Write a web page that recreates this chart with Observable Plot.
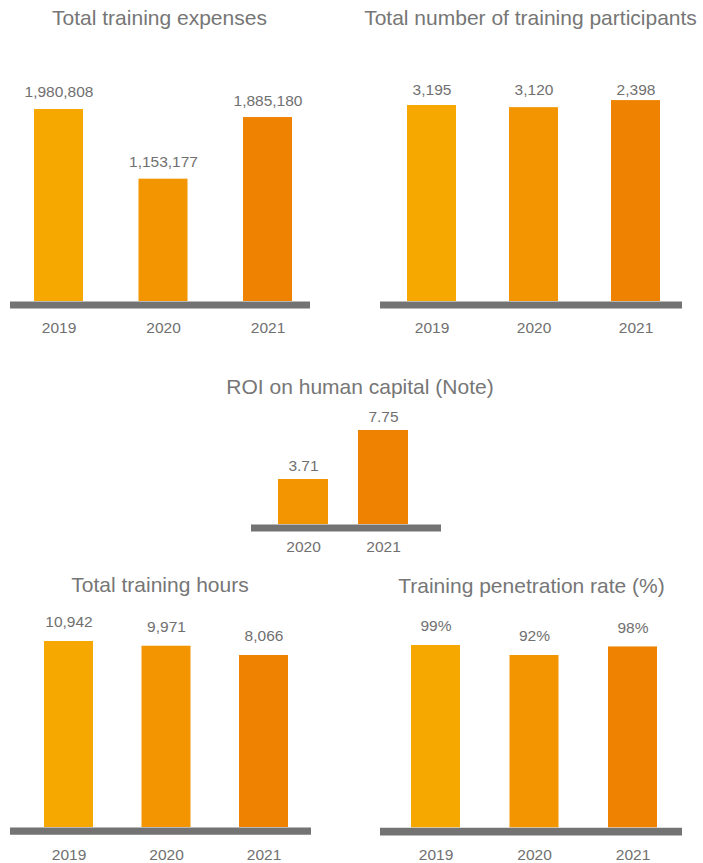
<!DOCTYPE html>
<html>
<head>
<meta charset="utf-8">
<script src="https://cdn.jsdelivr.net/npm/d3@7"></script>
<script src="https://cdn.jsdelivr.net/npm/@observablehq/plot@0.6"></script>
<style>
  html, body { margin: 0; padding: 0; background: #fff; }
  body { width: 703px; height: 863px; position: relative; overflow: hidden;
         font-family: "Liberation Sans", Arial, sans-serif; }
  .title { position: absolute; width: 420px; height: 30px; line-height: 30px;
           text-align: center; font-size: 21px; color: #767676; white-space: nowrap; }
  .panel { position: absolute; }
  .panel svg { overflow: visible; }
</style>
</head>
<body>
<script>
// ---- data ----
const years = ["2019", "2020", "2021"];
const expenses = [1980808, 1153177, 1885180];
const participants = [3195, 3120, 2398];
// bar lengths as drawn in the source picture (its bars are not proportional to the labels)
const participantsBarLength = [3195, 3160, 3275];
const roiYears = ["2020", "2021"];
const roi = [3.71, 7.75];
const hours = [10942, 9971, 8066];
const penetration = [99, 92, 98];
const yearColors = {"2019": "#F6A800", "2020": "#F29500", "2021": "#EF8200"};

const titles = [
  {text: "Total training expenses", cx: 159.5, cy: 18},
  {text: "Total number of training participants", cx: 530.5, cy: 18},
  {text: "ROI on human capital (Note)", cx: 360, cy: 387},
  {text: "Total training hours", cx: 160, cy: 585},
  {text: "Training penetration rate (%)", cx: 531.5, cy: 586}
];

const gray = "#737373";
const textGray = "#707070";
const fmt = d3.format(",");

for (const t of titles) {
  const d = document.createElement("div");
  d.className = "title";
  d.textContent = t.text;
  d.style.left = (t.cx - 210) + "px";
  d.style.top = (t.cy - 15) + "px";
  document.body.appendChild(d);
}

function panel(o) {
  const rows = o.cats.map((c, i) => ({
    year: c,
    value: o.values[i],
    bar: o.bars ? o.bars[i] : o.values[i],
    label: o.format(o.values[i]),
    color: yearColors[c]
  }));
  const s = o.step, w = o.bandwidth, n = o.cats.length;
  const pi = 1 - w / s;
  const labelY = o.labelConst ? (() => d3.max(rows, r => r.bar)) : "bar";
  const chart = Plot.plot({
    width: o.width, height: o.height,
    marginLeft: o.ml, marginRight: o.mr, marginTop: 0, marginBottom: o.mb,
    style: {background: "transparent", fontFamily: "Liberation Sans, Arial, sans-serif"},
    x: {type: "band", domain: o.cats, range: [o.c0 - s / 2, o.c0 + (n - 1) * s + s / 2],
        paddingInner: pi, paddingOuter: pi / 2, align: 0.5, round: false, axis: null},
    y: {domain: o.ydomain, range: o.yrange, axis: null},
    color: {type: "identity"},
    marks: [
      Plot.barY(rows, {x: "year", y1: o.ydomain[0], y2: "bar", fill: "color"}),
      Plot.ruleY([o.ydomain[0]], {stroke: gray, strokeWidth: o.sw, dy: o.sw / 2}),
      Plot.text(rows, {x: "year", y: labelY, text: "label", dy: o.labelDy,
                       fontSize: 15.5, fill: textGray, textAnchor: "middle", lineAnchor: "middle"}),
      Plot.text(rows, {x: "year", text: "year", frameAnchor: "bottom", dy: o.yearDy,
                       fontSize: 15.5, fill: textGray, textAnchor: "middle", lineAnchor: "middle"})
    ]
  });
  const div = document.createElement("div");
  div.className = "panel";
  div.style.left = o.left + "px";
  div.style.top = o.top + "px";
  div.appendChild(chart);
  document.body.appendChild(div);
}

// Total training expenses
panel({cats: years, values: expenses, format: fmt,
  left: 0, top: 0, width: 320, height: 345, ml: 10, mr: 10, mb: 37,
  c0: 58.5, step: 104.5, bandwidth: 49,
  ydomain: [-300000, 1980808], yrange: [301, 109], sw: 7, labelDy: -17, yearDy: 20});

// Total number of training participants
panel({cats: years, values: participants, bars: participantsBarLength, format: fmt, labelConst: true,
  left: 350, top: 0, width: 353, height: 345, ml: 30, mr: 21, mb: 37,
  c0: 81.5, step: 102, bandwidth: 49,
  ydomain: [0, 3195], yrange: [301, 105], sw: 7, labelDy: -11, yearDy: 20});

// ROI on human capital
panel({cats: roiYears, values: roi, format: d => d.toFixed(2),
  left: 200, top: 360, width: 320, height: 200, ml: 51, mr: 79, mb: 29,
  c0: 103, step: 80, bandwidth: 50,
  ydomain: [0, 7.75], yrange: [164, 70], sw: 7, labelDy: -13.5, yearDy: 16});

// Total training hours
panel({cats: years, values: hours, format: fmt,
  left: 0, top: 600, width: 320, height: 263, ml: 10, mr: 9, mb: 29,
  c0: 68.5, step: 97.5, bandwidth: 49,
  ydomain: [-27267, 10942], yrange: [227, 41], sw: 7.3, labelDy: -19, yearDy: 21});

// Training penetration rate
panel({cats: years, values: penetration, format: d => d + "%",
  left: 350, top: 600, width: 353, height: 263, ml: 30, mr: 21, mb: 28,
  c0: 85.5, step: 98.5, bandwidth: 49,
  ydomain: [-28.4, 99], yrange: [227.3, 45], sw: 7.7, labelDy: -19, yearDy: 20});
</script>
</body>
</html>
